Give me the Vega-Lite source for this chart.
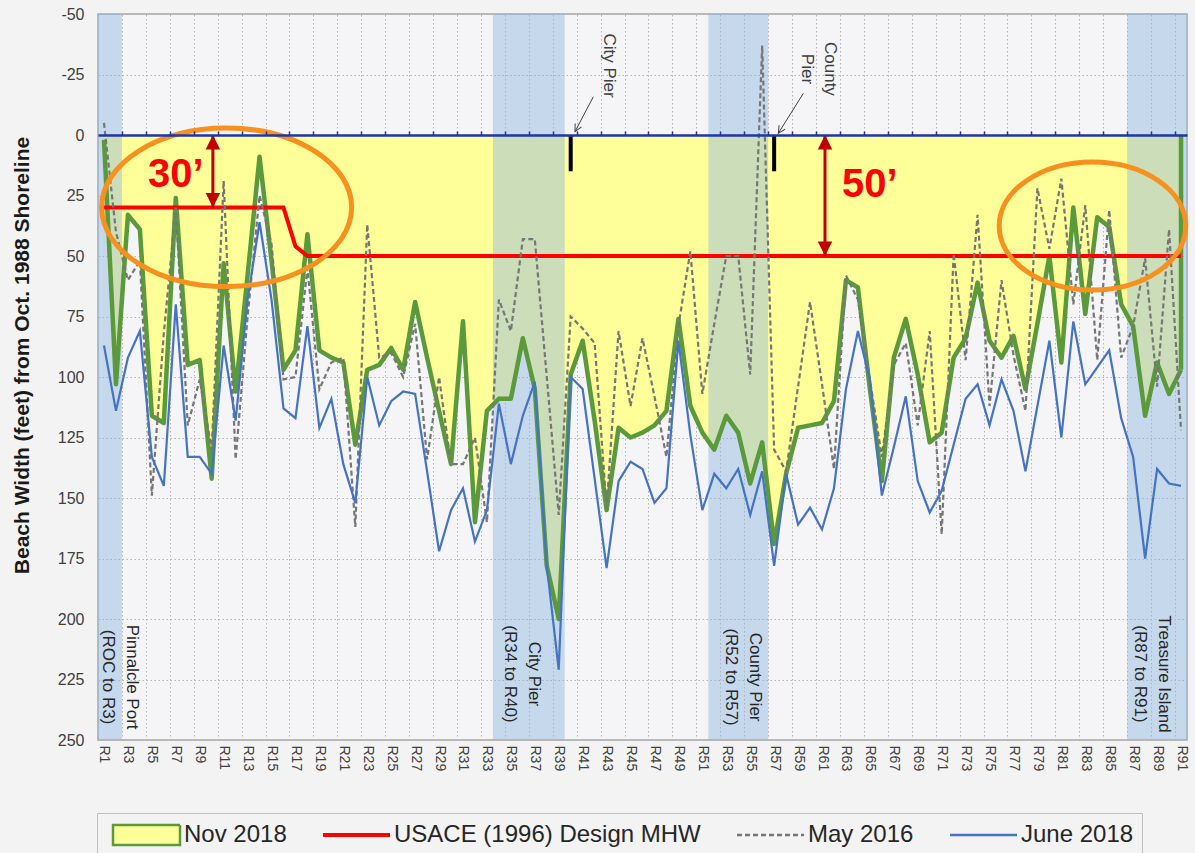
{
"$schema": "https://vega.github.io/schema/vega-lite/v6.json",
"width": 1089,
"height": 726,
"autosize": {"type": "none"},
"padding": {"left": 98, "top": 14, "right": 8, "bottom": 113},
"background": "#f3f3f3",
"config": {"view": {"fill": "#f5f4f6", "stroke": "#a6a6a6", "strokeWidth": 1.5}, "font": "Liberation Sans"},
"datasets": {
"beach": [
{"i":1,"nov":2,"usace":30,"may":-5,"jun":87},
{"i":2,"nov":103,"usace":30,"may":40,"jun":114},
{"i":3,"nov":33,"usace":30,"may":60,"jun":92},
{"i":4,"nov":39,"usace":30,"may":52,"jun":81},
{"i":5,"nov":116,"usace":30,"may":149,"jun":133},
{"i":6,"nov":119,"usace":30,"may":82,"jun":145},
{"i":7,"nov":26,"usace":30,"may":30,"jun":70},
{"i":8,"nov":95,"usace":30,"may":120,"jun":133},
{"i":9,"nov":93,"usace":30,"may":101,"jun":133},
{"i":10,"nov":142,"usace":30,"may":130,"jun":140},
{"i":11,"nov":53,"usace":30,"may":19,"jun":87},
{"i":12,"nov":106,"usace":30,"may":134,"jun":118},
{"i":13,"nov":58,"usace":30,"may":75,"jun":68},
{"i":14,"nov":9,"usace":30,"may":25,"jun":36},
{"i":15,"nov":52,"usace":30,"may":45,"jun":68},
{"i":16,"nov":97,"usace":30,"may":101,"jun":113},
{"i":17,"nov":89,"usace":46,"may":100,"jun":117},
{"i":18,"nov":41,"usace":50,"may":55,"jun":79},
{"i":19,"nov":89,"usace":50,"may":105,"jun":121},
{"i":20,"nov":92,"usace":50,"may":94,"jun":109},
{"i":21,"nov":94,"usace":50,"may":92,"jun":136},
{"i":22,"nov":128,"usace":50,"may":162,"jun":152},
{"i":23,"nov":97,"usace":50,"may":37,"jun":100},
{"i":24,"nov":95,"usace":50,"may":92,"jun":120},
{"i":25,"nov":88,"usace":50,"may":90,"jun":110},
{"i":26,"nov":97,"usace":50,"may":100,"jun":106},
{"i":27,"nov":69,"usace":50,"may":78,"jun":107},
{"i":28,"nov":92,"usace":50,"may":134,"jun":139},
{"i":29,"nov":114,"usace":50,"may":100,"jun":172},
{"i":30,"nov":136,"usace":50,"may":136,"jun":155},
{"i":31,"nov":77,"usace":50,"may":136,"jun":146},
{"i":32,"nov":160,"usace":50,"may":125,"jun":168},
{"i":33,"nov":114,"usace":50,"may":160,"jun":155},
{"i":34,"nov":109,"usace":50,"may":68,"jun":111},
{"i":35,"nov":109,"usace":50,"may":81,"jun":136},
{"i":36,"nov":84,"usace":50,"may":43,"jun":116},
{"i":37,"nov":105,"usace":50,"may":43,"jun":102},
{"i":38,"nov":178,"usace":50,"may":100,"jun":178},
{"i":39,"nov":200,"usace":50,"may":157,"jun":221},
{"i":40,"nov":99,"usace":50,"may":75,"jun":100},
{"i":41,"nov":85,"usace":50,"may":80,"jun":105},
{"i":42,"nov":118,"usace":50,"may":86,"jun":142},
{"i":43,"nov":155,"usace":50,"may":154,"jun":179},
{"i":44,"nov":121,"usace":50,"may":81,"jun":143},
{"i":45,"nov":125,"usace":50,"may":112,"jun":135},
{"i":46,"nov":123,"usace":50,"may":84,"jun":138},
{"i":47,"nov":120,"usace":50,"may":108,"jun":152},
{"i":48,"nov":114,"usace":50,"may":133,"jun":146},
{"i":49,"nov":76,"usace":50,"may":79,"jun":85},
{"i":50,"nov":112,"usace":50,"may":48,"jun":124},
{"i":51,"nov":123,"usace":50,"may":107,"jun":155},
{"i":52,"nov":130,"usace":50,"may":78,"jun":140},
{"i":53,"nov":116,"usace":50,"may":50,"jun":146},
{"i":54,"nov":123,"usace":50,"may":50,"jun":138},
{"i":55,"nov":144,"usace":50,"may":99,"jun":157},
{"i":56,"nov":127,"usace":50,"may":-37,"jun":139},
{"i":57,"nov":169,"usace":50,"may":130,"jun":178},
{"i":58,"nov":140,"usace":50,"may":139,"jun":140},
{"i":59,"nov":121,"usace":50,"may":104,"jun":161},
{"i":60,"nov":120,"usace":50,"may":69,"jun":154},
{"i":61,"nov":119,"usace":50,"may":103,"jun":163},
{"i":62,"nov":110,"usace":50,"may":138,"jun":146},
{"i":63,"nov":60,"usace":50,"may":58,"jun":105},
{"i":64,"nov":63,"usace":50,"may":68,"jun":81},
{"i":65,"nov":105,"usace":50,"may":101,"jun":101},
{"i":66,"nov":143,"usace":50,"may":133,"jun":149},
{"i":67,"nov":92,"usace":50,"may":95,"jun":129},
{"i":68,"nov":76,"usace":50,"may":86,"jun":108},
{"i":69,"nov":99,"usace":50,"may":120,"jun":143},
{"i":70,"nov":127,"usace":50,"may":81,"jun":156},
{"i":71,"nov":123,"usace":50,"may":165,"jun":147},
{"i":72,"nov":92,"usace":50,"may":49,"jun":128},
{"i":73,"nov":84,"usace":50,"may":93,"jun":109},
{"i":74,"nov":61,"usace":50,"may":33,"jun":103},
{"i":75,"nov":85,"usace":50,"may":112,"jun":120},
{"i":76,"nov":92,"usace":50,"may":60,"jun":101},
{"i":77,"nov":83,"usace":50,"may":91,"jun":114},
{"i":78,"nov":105,"usace":50,"may":114,"jun":139},
{"i":79,"nov":78,"usace":50,"may":22,"jun":112},
{"i":80,"nov":50,"usace":50,"may":47,"jun":85},
{"i":81,"nov":94,"usace":50,"may":18,"jun":125},
{"i":82,"nov":30,"usace":50,"may":70,"jun":77},
{"i":83,"nov":74,"usace":50,"may":29,"jun":103},
{"i":84,"nov":34,"usace":50,"may":93,"jun":96},
{"i":85,"nov":38,"usace":50,"may":31,"jun":89},
{"i":86,"nov":70,"usace":50,"may":92,"jun":117},
{"i":87,"nov":79,"usace":50,"may":79,"jun":133},
{"i":88,"nov":116,"usace":50,"may":51,"jun":175},
{"i":89,"nov":94,"usace":50,"may":104,"jun":138},
{"i":90,"nov":107,"usace":50,"may":39,"jun":144},
{"i":91,"nov":97,"usace":50,"may":122,"jun":145}
],
"bands": [
{"start": 0.5, "end": 2.5},
{"start": 33.5, "end": 39.5},
{"start": 51.5, "end": 56.5},
{"start": 86.5, "end": 91.5}
],
"regions": [
{"x": 3.34, "y": 224, "label": "Pinnalcle Port\n(ROC to R3)"},
{"x": 36.9, "y": 222.7, "label": "City Pier\n(R34 to R40)"},
{"x": 55.4, "y": 224, "label": "County Pier\n(R52 to R57)"},
{"x": 89.55, "y": 222.7, "label": "Treasure Island\n(R87 to R91)"}
],
"piers": [
{"x": 43.2, "y": -28.7, "label": "City Pier"},
{"x": 61.7, "y": -27.3, "label": "County\nPier"}
],
"pierBars": [
{"x": 40, "y": 0, "y2": 15},
{"x": 57, "y": 0, "y2": 15}
],
"pierArrows": [
{"x": 41.89, "y": -15.8, "x2": 40.36, "y2": -1.4},
{"x": 59.44, "y": -17.2, "x2": 57.35, "y2": -0.7}
],
"widthArrows": [
{"x": 10.1, "top": 0, "bottom": 30},
{"x": 61.25, "top": 0, "bottom": 50}
],
"widthLabels": [
{"x": 7.0, "y": 16.5, "label": "30’"},
{"x": 65.0, "y": 20.7, "label": "50’"}
]
},
"resolve": {"axis": {"x": "independent", "y": "independent"}},
"layer": [
{
"data": {"name": "beach"},
"mark": {"type": "area", "color": "#ffff99", "opacity": 1},
"encoding": {
"x": {"field": "i", "type": "quantitative", "scale": {"domain": [0.5, 91.5], "nice": false, "zero": false},
"axis": {"orient": "bottom", "title": null,
"values": [1,2.5,3,4.5,5,6.5,7,8.5,9,10.5,11,12.5,13,14.5,15,16.5,17,18.5,19,20.5,21,22.5,23,24.5,25,26.5,27,28.5,29,30.5,31,32.5,33,34.5,35,36.5,37,38.5,39,40.5,41,42.5,43,44.5,45,46.5,47,48.5,49,50.5,51,52.5,53,54.5,55,56.5,57,58.5,59,60.5,61,62.5,63,64.5,65,66.5,67,68.5,69,70.5,71,72.5,73,74.5,75,76.5,77,78.5,79,80.5,81,82.5,83,84.5,85,86.5,87,88.5,89,90.5,91],
"labelExpr": "datum.value % 1 === 0 ? 'R' + datum.value : ''",
"labelAngle": 90, "labelFontSize": 14, "labelColor": "#404040", "labelPadding": 5,
"labelOverlap": false, "labelFlush": false, "labelBound": false,
"ticks": false, "tickSize": 0, "domain": false,
"grid": true, "gridColor": "#b4b4b4", "gridDash": [1.5, 2.5], "gridWidth": 1,
"gridOpacity": {"condition": {"test": "datum.value % 1 !== 0", "value": 1}, "value": 0}}},
"y": {"field": "nov", "type": "quantitative", "scale": {"domain": [-50, 250], "reverse": true, "nice": false, "zero": false},
"axis": {"values": [-50,-25,0,25,50,75,100,125,150,175,200,225,250],
"labelExpr": "'' + datum.value",
"grid": true, "gridColor": "#b4b4b4", "gridDash": [1.5, 2.5], "gridWidth": 1,
"ticks": false, "tickSize": 0, "domain": false,
"labelFontSize": 16, "labelColor": "#404040", "labelPadding": 14,
"title": "Beach Width (feet) from Oct. 1988 Shoreline", "titleFontSize": 21, "titleFontWeight": "bold", "titleColor": "#1a1a1a",
"titleX": -76, "titleY": 341, "titleAngle": -90, "titleBaseline": "middle", "titleAlign": "center"}},
"y2": {"datum": 0}
}
},
{
"data": {"name": "bands"},
"mark": {"type": "rect", "color": "#8fb6e0", "opacity": 0.45},
"encoding": {
"x": {"field": "start", "type": "quantitative",
"axis": {"orient": "top", "offset": -121, "title": null, "labels": false, "grid": false,
"values": [2.5,4.5,6.5,8.5,10.5,12.5,14.5,16.5,18.5,20.5,22.5,24.5,26.5,28.5,30.5,32.5,34.5,36.5,38.5,40.5,42.5,44.5,46.5,48.5,50.5,52.5,54.5,56.5,58.5,60.5,62.5,64.5,66.5,68.5,70.5,72.5,74.5,76.5,78.5,80.5,82.5,84.5,86.5,88.5,90.5],
"ticks": true, "tickSize": 4, "tickColor": "#1f35a8", "tickWidth": 1.5,
"domain": true, "domainColor": "#1f35a8", "domainWidth": 2.5, "zindex": 1}},
"x2": {"field": "end"}
}
},
{
"data": {"name": "beach"},
"mark": {"type": "line", "strokeWidth": 4.5, "strokeJoin": "round"},
"encoding": {
"x": {"field": "i", "type": "quantitative", "axis": null},
"y": {"field": "nov", "type": "quantitative", "axis": null},
"color": {"datum": "Nov 2018", "type": "nominal",
"scale": {"domain": ["Nov 2018", "USACE (1996) Design MHW", "May 2016", "June 2018"], "range": ["#5a9a3a", "#ff0000", "#767676", "#4472c4"]},
"legend": {"orient": "none", "legendX": -1, "legendY": 799, "direction": "horizontal", "title": null,
"symbolSize": 4489, "clipHeight": 28, "labelFontSize": 24, "labelFont": "Liberation Sans",
"labelColor": "#262626", "labelLimit": 500, "columnPadding": 28, "padding": 8, "strokeColor": "#bfbfbf", "fillColor": "#f3f3f3",
"encode": {
"symbols": {"update": {
"size": {"value": 4489},
"x": {"value": 41.5},
"shape": {"signal": "datum.value === 'Nov 2018' ? 'M-1,-0.3H1V0.3H-1Z' : 'M-1,0H1'"},
"fill": {"signal": "datum.value === 'Nov 2018' ? '#ffff99' : 'transparent'"},
"fillOpacity": {"value": 1},
"stroke": {"signal": "datum.value === 'Nov 2018' ? '#5a9a3a' : datum.value === 'May 2016' ? '#767676' : datum.value === 'June 2018' ? '#4472c4' : '#ff0000'"},
"strokeWidth": {"signal": "datum.value === 'USACE (1996) Design MHW' ? 4 : 2.5"},
"strokeDash": {"signal": "datum.value === 'May 2016' ? [5, 3] : [1, 0]"},
"opacity": {"value": 1},
"strokeOpacity": {"value": 1}
}},
"labels": {"update": {"x": {"value": 79}}}
}}}
}
},
{
"data": {"name": "beach"},
"transform": [{"filter": "datum.i === 91"}],
"mark": {"type": "rule", "color": "#5a9a3a", "strokeWidth": 4.5},
"encoding": {
"x": {"field": "i", "type": "quantitative", "axis": null},
"y": {"field": "nov", "type": "quantitative", "axis": null},
"y2": {"datum": 0}
}
},
{
"data": {"name": "beach"},
"mark": {"type": "line", "strokeWidth": 4},
"encoding": {
"x": {"field": "i", "type": "quantitative", "axis": null},
"y": {"field": "usace", "type": "quantitative", "axis": null},
"color": {"datum": "USACE (1996) Design MHW", "type": "nominal"}
}
},
{
"data": {"name": "beach"},
"mark": {"type": "line", "strokeWidth": 2.2, "strokeDash": [5, 3]},
"encoding": {
"x": {"field": "i", "type": "quantitative", "axis": null},
"y": {"field": "may", "type": "quantitative", "axis": null},
"color": {"datum": "May 2016", "type": "nominal"}
}
},
{
"data": {"name": "beach"},
"mark": {"type": "line", "strokeWidth": 2.2},
"encoding": {
"x": {"field": "i", "type": "quantitative", "axis": null},
"y": {"field": "jun", "type": "quantitative", "axis": null},
"color": {"datum": "June 2018", "type": "nominal"}
}
},
{
"data": {"name": "pierBars"},
"mark": {"type": "rule", "color": "#000000", "strokeWidth": 4},
"encoding": {
"x": {"field": "x", "type": "quantitative", "axis": null},
"y": {"field": "y", "type": "quantitative", "axis": null},
"y2": {"field": "y2"}
}
},
{
"data": {"name": "pierArrows"},
"mark": {"type": "rule", "color": "#404040", "strokeWidth": 1},
"encoding": {
"x": {"field": "x", "type": "quantitative", "axis": null},
"y": {"field": "y", "type": "quantitative", "axis": null},
"x2": {"field": "x2"},
"y2": {"field": "y2"}
}
},
{
"data": {"values": [{"x": 40.36, "y": -1.4}]},
"mark": {"type": "point", "shape": "M-0.6,1.2L0,0L0.6,1.2", "size": 144, "filled": false, "color": "#404040", "strokeWidth": 1, "opacity": 1, "angle": 207.6},
"encoding": {
"x": {"field": "x", "type": "quantitative", "axis": null},
"y": {"field": "y", "type": "quantitative", "axis": null}
}
},
{
"data": {"values": [{"x": 57.35, "y": -0.7}]},
"mark": {"type": "point", "shape": "M-0.6,1.2L0,0L0.6,1.2", "size": 144, "filled": false, "color": "#404040", "strokeWidth": 1, "opacity": 1, "angle": 212},
"encoding": {
"x": {"field": "x", "type": "quantitative", "axis": null},
"y": {"field": "y", "type": "quantitative", "axis": null}
}
},
{
"data": {"name": "widthArrows"},
"mark": {"type": "rule", "color": "#c00000", "strokeWidth": 3},
"encoding": {
"x": {"field": "x", "type": "quantitative", "axis": null},
"y": {"field": "top", "type": "quantitative", "axis": null},
"y2": {"field": "bottom"}
}
},
{
"data": {"name": "widthArrows"},
"mark": {"type": "point", "shape": "M0,0L0.55,1.1L-0.55,1.1Z", "size": 700, "filled": true, "color": "#c00000", "opacity": 1},
"encoding": {
"x": {"field": "x", "type": "quantitative", "axis": null},
"y": {"field": "top", "type": "quantitative", "axis": null}
}
},
{
"data": {"name": "widthArrows"},
"mark": {"type": "point", "shape": "M0,0L0.55,-1.1L-0.55,-1.1Z", "size": 700, "filled": true, "color": "#c00000", "opacity": 1},
"encoding": {
"x": {"field": "x", "type": "quantitative", "axis": null},
"y": {"field": "bottom", "type": "quantitative", "axis": null}
}
},
{
"data": {"values": [{"x": 11.25, "y": 29.9}]},
"mark": {"type": "point", "shape": "M-1,0A1,0.634 0 1,0 1,0A1,0.634 0 1,0 -1,0Z", "size": 62500, "filled": false, "color": "#f7901e", "strokeWidth": 5, "opacity": 1},
"encoding": {
"x": {"field": "x", "type": "quantitative", "axis": null},
"y": {"field": "y", "type": "quantitative", "axis": null}
}
},
{
"data": {"values": [{"x": 83.6, "y": 37.6}]},
"mark": {"type": "point", "shape": "M-1,0A1,0.686 0 1,0 1,0A1,0.686 0 1,0 -1,0Z", "size": 34820, "filled": false, "color": "#f7901e", "strokeWidth": 5, "opacity": 1},
"encoding": {
"x": {"field": "x", "type": "quantitative", "axis": null},
"y": {"field": "y", "type": "quantitative", "axis": null}
}
},
{
"data": {"name": "widthLabels"},
"mark": {"type": "text", "font": "Liberation Sans", "fontSize": 40, "fontWeight": "bold", "color": "#ff0000", "align": "center", "baseline": "middle"},
"encoding": {
"x": {"field": "x", "type": "quantitative", "axis": null},
"y": {"field": "y", "type": "quantitative", "axis": null},
"text": {"field": "label"}
}
},
{
"data": {"name": "regions"},
"mark": {"type": "text", "font": "Liberation Sans", "fontSize": 17, "color": "#262626", "angle": 90, "align": "center", "baseline": "middle", "lineBreak": "\n", "lineHeight": 24},
"encoding": {
"x": {"field": "x", "type": "quantitative", "axis": null},
"y": {"field": "y", "type": "quantitative", "axis": null},
"text": {"field": "label"}
}
},
{
"data": {"name": "piers"},
"mark": {"type": "text", "font": "Liberation Sans", "fontSize": 17, "color": "#404040", "angle": 90, "align": "center", "baseline": "middle", "lineBreak": "\n", "lineHeight": 23},
"encoding": {
"x": {"field": "x", "type": "quantitative", "axis": null},
"y": {"field": "y", "type": "quantitative", "axis": null},
"text": {"field": "label"}
}
}
]
}
